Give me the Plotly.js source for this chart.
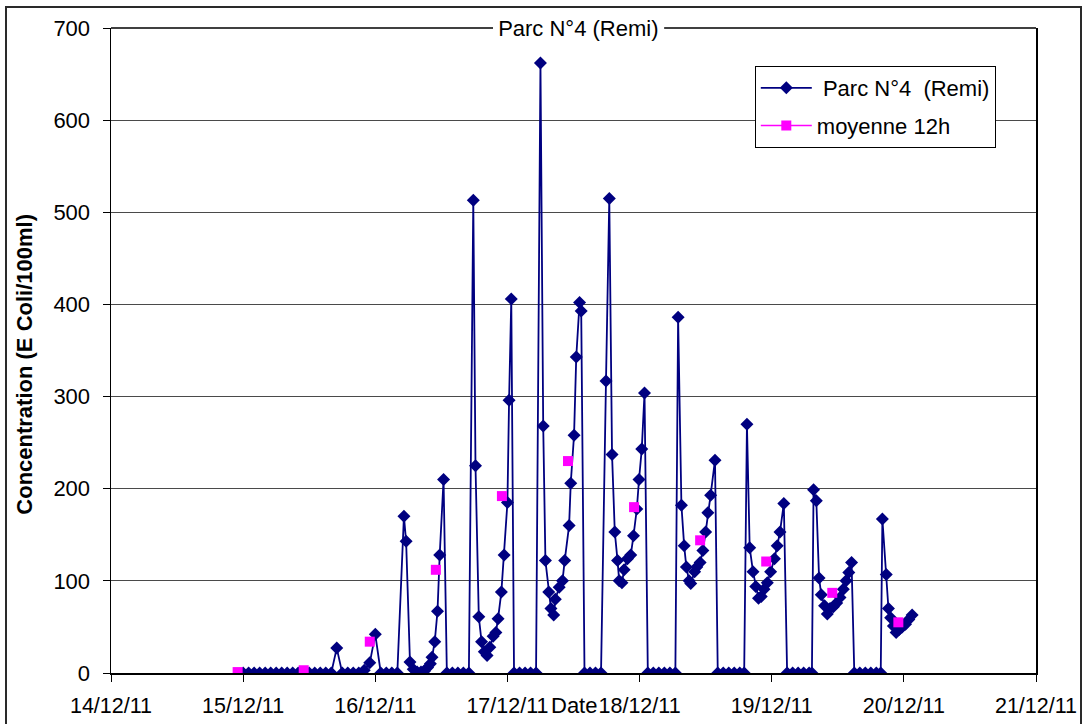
<!DOCTYPE html>
<html>
<head>
<meta charset="utf-8">
<script src="https://cdn.plot.ly/plotly-3.0.1.min.js"></script>
<style>
  html, body { margin: 0; padding: 0; background: #fff; overflow: hidden; }
  #chart { position: absolute; left: 0; top: 0; width: 1083px; height: 724px; }
  #frame { position: absolute; left: 5px; top: 6px; width: 1077px; height: 740px;
           border: 2px solid #2a2a2a; box-sizing: border-box; pointer-events: none; }
</style>
</head>
<body>
<div id="chart"></div>
<div id="frame"></div>
<script>
// Sampling times, in hours after 15/12/2011 00:00
const sampleHours = [
  0, 1, 2, 3, 4, 5, 6, 7, 8, 9, 10, 11, 12, 13, 14, 15, 16, 17, 18, 19, 20, 21, 22, 23, 24, 25, 26, 27, 28,
  29.2, 29.6, 30.3, 30.9, 31.6, 32.3, 32.9, 33.5, 34.0, 34.3, 34.8, 35.3, 35.7, 36.4,
  37, 38, 39, 40, 41,
  41.8, 42.2, 42.8, 43.3, 43.8, 44.3, 44.8, 45.4, 45.9, 46.3, 46.9, 47.4, 48.0, 48.3, 48.7,
  49.2, 50.2, 51.2, 52.2, 53.2,
  54.0, 54.5, 54.9, 55.5, 55.9, 56.4, 56.7, 57.4, 58.0, 58.4, 59.2, 59.5, 60.1, 60.5, 61.1, 61.4,
  62, 63, 64, 65,
  65.9, 66.5, 67.0, 67.5, 68.0, 68.3, 68.8, 69.2, 69.8, 70.4, 70.9, 71.5, 71.9, 72.4, 72.9,
  73.5, 74.5, 75.5, 76.5, 77.5, 78.5,
  79.0, 79.6, 80.1, 80.5, 81.0, 81.3, 82.0, 82.4, 83.0, 83.5, 84.0, 84.4, 84.9, 85.7,
  86.2, 87.2, 88.2, 89.2, 90.2, 91.0,
  91.5, 92.0, 92.6, 93.1, 93.6, 94.1, 94.6, 95.2, 95.8, 96.5, 97.0, 97.5, 98.2,
  98.8, 99.8, 100.8, 101.8, 102.8, 103.3,
  103.6, 104.1, 104.6, 105.0, 105.6, 106.1, 106.6, 107.2, 107.8, 108.4, 109.0, 109.5, 110.0, 110.5,
  111, 112, 113, 114, 115, 115.8,
  116.1, 116.8, 117.2, 117.6, 118.1, 118.6, 119.1, 119.7, 120.3, 120.9, 121.5
];

// E. coli concentration per 100 ml at each sampling time
const concentration = [
  0, 0, 0, 0, 0, 0, 0, 0, 0, 0, 0, 0, 0, 0, 0, 0, 0, 27, 0, 0, 0, 0, 3, 11, 42, 0, 0, 0, 0,
  170, 143, 12, 4, 1, 1, 2, 6, 10, 17, 34, 67, 128, 210,
  0, 0, 0, 0, 0,
  513, 225, 61, 34, 23, 19, 28, 40, 44, 59, 88, 128, 185, 296, 406,
  0, 0, 0, 0, 0,
  662, 268, 122, 88, 70, 63, 80, 93, 100, 122, 160, 206, 258, 343, 402, 393,
  0, 0, 0, 0,
  317, 515, 237, 153, 122, 100, 98, 112, 124, 128, 149, 178, 210, 243, 304,
  0, 0, 0, 0, 0, 0,
  386, 182, 138, 115, 100, 97, 110, 115, 120, 133, 153, 174, 193, 231,
  0, 0, 0, 0, 0, 0,
  270, 136, 110, 94, 81, 83, 91, 98, 110, 124, 138, 153, 184,
  0, 0, 0, 0, 0, 0,
  199, 187, 103, 85, 73, 64, 70, 72, 76, 82, 91, 100, 109, 120,
  0, 0, 0, 0, 0, 0,
  167, 107, 70, 60, 51, 44, 47, 50, 53, 58, 63
];

// 12-hour averages
const meanHours = [-1, 11, 23, 35, 47, 59, 71, 83, 95, 107, 119];
const meanValues = [1, 3, 34, 112, 192, 230, 180, 144, 121, 87, 55];

// Day ticks on the date axis
const tickDays = [14, 15, 16, 17, 18, 19, 20, 21];
const tickLabels = ['14/12/11', '15/12/11', '16/12/11', '17/12/11', '18/12/11', '19/12/11', '20/12/11', '21/12/11'];

const seriesName = '\u00A0Parc N°4\u00A0 (Remi)';
const meanName = 'moyenne 12h';
const chartTitle = 'Parc N°4 (Remi)';
const xTitle = 'Date';
const yTitle = 'Concentration (E Coli/100ml)';

const START = Date.UTC(2011, 11, 15);
const HOUR = 3600000;
const toTime = h => START + h * HOUR;
const dayTime = d => Date.UTC(2011, 11, d);

// averages as isolated points: a null after each one keeps them unconnected
const meanX = [], meanY = [];
meanHours.forEach((h, i) => {
  meanX.push(toTime(h), toTime(h));
  meanY.push(meanValues[i], null);
});

const FONT = 'Liberation Sans, Arial, sans-serif';

const traces = [
  {
    x: sampleHours.map(toTime),
    y: concentration,
    name: seriesName,
    type: 'scatter',
    mode: 'lines+markers',
    line: { color: '#000080', width: 1.8 },
    marker: { symbol: 'diamond', color: '#000080', size: 10 },
    legendgroup: 'a'
  },
  {
    x: meanX,
    y: meanY,
    name: meanName,
    type: 'scatter',
    mode: 'lines+markers',
    connectgaps: false,
    line: { color: '#FF00FF', width: 1.5 },
    marker: { symbol: 'square', color: '#FF00FF', size: 10 },
    legendgroup: 'b'
  }
];

const layout = {
  width: 1083,
  height: 724,
  margin: { l: 111, r: 47, t: 28, b: 51, pad: 0 },
  paper_bgcolor: '#fff',
  plot_bgcolor: '#fff',
  font: { family: FONT, color: '#000', size: 22 },
  showlegend: true,
  title: {
    text: chartTitle,
    font: { family: FONT, size: 22, color: '#000' },
    x: 0.534, xref: 'container', xanchor: 'center',
    y: 0.9613, yref: 'container', yanchor: 'middle'
  },
  xaxis: {
    type: 'date',
    range: [dayTime(14), dayTime(21)],
    tickvals: tickDays.map(dayTime),
    ticktext: tickLabels,
    ticks: 'outside', ticklen: 7, tickwidth: 1, tickcolor: '#000',
    ticklabelstandoff: 6,
    tickfont: { family: FONT, size: 21.5, color: '#000' },
    showline: true, linecolor: '#000', linewidth: 1.5, mirror: false,
    showgrid: false, zeroline: false, automargin: false, fixedrange: true
  },
  yaxis: {
    range: [0, 700], tick0: 0, dtick: 100,
    ticks: 'outside', ticklen: 7, tickwidth: 1, tickcolor: '#000',
    ticklabelstandoff: 8,
    tickfont: { family: FONT, size: 22, color: '#000' },
    showline: true, linecolor: '#000', linewidth: 1.5, mirror: true,
    showgrid: true, gridcolor: '#4a4a4a', gridwidth: 1,
    zeroline: false, automargin: false, fixedrange: true
  },
  legend: {
    x: 0.696, y: 0.941, xanchor: 'left', yanchor: 'top',
    bgcolor: '#fff', bordercolor: '#000', borderwidth: 1,
    font: { family: FONT, size: 22, color: '#000' },
    traceorder: 'grouped', tracegroupgap: 6, itemwidth: 51
  },
  annotations: [
    {
      text: xTitle, xref: 'paper', yref: 'paper', x: 0.5, y: 0,
      xanchor: 'center', yanchor: 'middle', yshift: -32, showarrow: false,
      font: { family: FONT, size: 22, color: '#000' }
    },
    {
      text: '<b>' + yTitle + '</b>', xref: 'paper', yref: 'paper', x: 0, y: 0.478,
      xanchor: 'center', yanchor: 'middle', xshift: -86, textangle: -90, showarrow: false,
      font: { family: FONT, size: 22, color: '#000' }
    }
  ],
  // top edge of the plot frame, interrupted behind the title
  shapes: [
    { type: 'line', xref: 'paper', yref: 'paper', x0: 0, x1: 0.413, y0: 1, y1: 1, line: { color: '#000', width: 1.5 } },
    { type: 'line', xref: 'paper', yref: 'paper', x0: 0.598, x1: 1, y0: 1, y1: 1, line: { color: '#000', width: 1.5 } }
  ]
};

Plotly.newPlot('chart', traces, layout, { displayModeBar: false, staticPlot: true });
</script>
</body>
</html>
